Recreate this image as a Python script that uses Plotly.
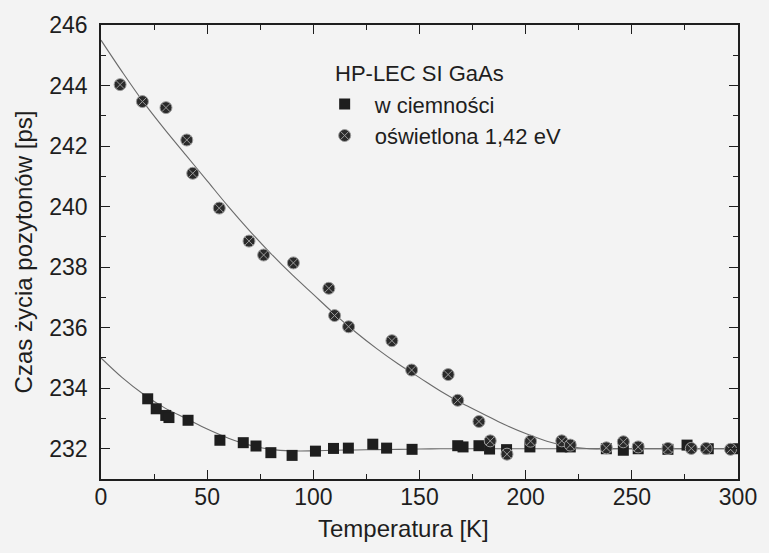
import plotly.graph_objects as go

# Positron lifetime in HP-LEC SI GaAs vs temperature
t_dark = [22, 26, 30.5, 32, 41, 56, 67, 73, 80, 90, 101, 109.5, 116.5, 128, 134.5, 146.5,
          168, 170.5, 178, 183, 191, 202, 217, 221, 238, 246, 253, 267, 276, 286, 300]
tau_dark = [233.65, 233.32, 233.1, 233.03, 232.94, 232.28, 232.2, 232.09, 231.87, 231.78, 231.92,
            232.01, 232.02, 232.15, 232.02, 231.98, 232.1, 232.06, 232.1, 231.99, 231.97, 232.06,
            232.06, 232.06, 232.0, 231.95, 232.0, 231.98, 232.12, 232.0, 232.0]

t_light = [9, 19.5, 30.6, 40.4, 43.2, 55.7, 69.7, 76.6, 90.6, 107.3, 110, 116.6, 137, 146.3,
           163.5, 168, 178, 183.3, 191.2, 202.3, 217, 221, 238, 246, 253, 267, 278, 285, 296.5]
tau_light = [244.03, 243.47, 243.27, 242.2, 241.1, 239.95, 238.86, 238.4, 238.14, 237.3, 236.4,
             236.03, 235.57, 234.6, 234.45, 233.6, 232.9, 232.26, 231.82, 232.25, 232.26, 232.12,
             232.03, 232.23, 232.06, 232.01, 232.01, 232.01, 231.98]

# fitted curves
t_fit = [0, 10, 20, 30, 40, 50, 60, 70, 80, 90, 100, 110, 120, 130, 140, 150, 160, 170, 180,
         190, 200, 210, 220, 230, 240, 250, 260, 270, 280, 290, 300]
fit_dark = [235.0, 234.35, 233.8, 233.35, 233.0, 232.65, 232.35, 232.12, 231.98, 231.93, 231.93,
            231.95, 231.96, 231.97, 231.98, 231.99, 232.0, 232.0, 232.0, 232.0, 232.0, 232.0,
            232.0, 232.0, 232.0, 232.0, 232.0, 232.0, 232.0, 232.0, 232.0]
fit_light = [245.5, 244.45, 243.45, 242.55, 241.7, 240.85, 240.0, 239.2, 238.45, 237.75, 237.1,
             236.45, 235.85, 235.3, 234.8, 234.35, 233.9, 233.5, 233.15, 232.8, 232.5, 232.25,
             232.08, 232.0, 232.0, 232.0, 232.0, 232.0, 232.0, 232.0, 232.0]

FONT = "Liberation Sans, Arial, sans-serif"
INK = "#1e1e1e"
BG = "#f3f3f3"

fig = go.Figure()
fig.add_trace(go.Scatter(x=t_fit, y=fit_dark, mode="lines", line=dict(color="#6a6a6a", width=1.1, shape="spline"),
                         showlegend=False, hoverinfo="skip"))
fig.add_trace(go.Scatter(x=t_fit, y=fit_light, mode="lines", line=dict(color="#6a6a6a", width=1.1, shape="spline"),
                         showlegend=False, hoverinfo="skip"))
fig.add_trace(go.Scatter(x=t_dark, y=tau_dark, mode="markers", name="w ciemności",
                         marker=dict(symbol="square", size=11, color=INK)))
fig.add_trace(go.Scatter(x=t_light, y=tau_light, mode="markers", name="oświetlona 1,42 eV",
                         marker=dict(symbol="circle-x", size=12, color="#2a2a2a",
                                     line=dict(color="#9a9a9a", width=1))))

axis_common = dict(
    showline=True, linecolor=INK, linewidth=1.5, mirror="allticks",
    ticks="inside", ticklen=9, tickwidth=1.3, tickcolor=INK,
    showgrid=False, zeroline=False,
    tickfont=dict(family=FONT, size=23, color=INK),
)

fig.update_xaxes(range=[0, 300], tick0=0, dtick=50, ticklabelstandoff=-3,
                 minor=dict(ticks="inside", ticklen=5, tickwidth=1.2, tickcolor=INK, dtick=25, showgrid=False),
                 **axis_common)
fig.update_yaxes(range=[231, 246], tick0=232, dtick=2, ticklabelstandoff=7,
                 minor=dict(ticks="inside", ticklen=5, tickwidth=1.2, tickcolor=INK, dtick=1, showgrid=False),
                 title=dict(text="Czas życia pozytonów [ps]", font=dict(family=FONT, size=24, color=INK), standoff=10),
                 **axis_common)

fig.add_annotation(text="Temperatura [K]", xref="paper", yref="paper", x=0.475, y=-0.11,
                   xanchor="center", yanchor="middle", showarrow=False,
                   font=dict(family=FONT, size=24, color=INK))
fig.add_annotation(text="HP-LEC SI GaAs", xref="paper", yref="paper", x=0.364, y=0.8925,
                   xanchor="left", yanchor="middle", showarrow=False,
                   font=dict(family=FONT, size=22, color=INK))

fig.update_layout(
    width=769, height=553,
    margin=dict(l=101, r=22, t=23, b=74),
    paper_bgcolor=BG, plot_bgcolor=BG,
    legend=dict(
        font=dict(family=FONT, size=22, color=INK),
        x=0.3354, y=0.872, xanchor="left", yanchor="top",
        bgcolor="rgba(0,0,0,0)", itemwidth=50, tracegroupgap=0,
    ),
)

fig.write_html("out.html")
